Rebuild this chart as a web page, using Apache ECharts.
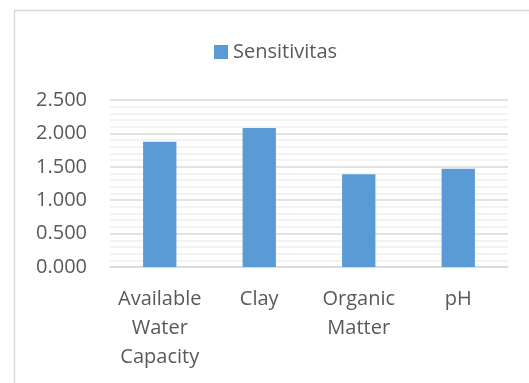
<!DOCTYPE html>
<html>
<head>
<meta charset="utf-8">
<script src="https://cdn.jsdelivr.net/npm/echarts@6/dist/echarts.min.js"></script>
<style>
  html, body { margin: 0; padding: 0; background: #ffffff; }
  #chart { width: 529px; height: 383px; }
</style>
</head>
<body>
<div id="chart"></div>
<script>
// Soil properties and their sensitivity values
const categories = ['Available Water Capacity', 'Clay', 'Organic Matter', 'pH'];
const sensitivitas = [1.875, 2.08, 1.388, 1.472];
const seriesName = 'Sensitivitas';

const textColor = '#595959';
const fontFamily = '"Open Sans", "Noto Sans", sans-serif';

const chart = echarts.init(document.getElementById('chart'), null, { renderer: 'canvas' });

chart.setOption({
  animation: false,
  backgroundColor: '#ffffff',
  graphic: [{
    type: 'rect',
    shape: { x: 14.5, y: 10.5, width: 700, height: 600 },
    style: { fill: 'none', stroke: '#d9d9d9', lineWidth: 1.5 },
    silent: true,
    z: -1
  }],
  legend: {
    data: [seriesName],
    top: 37,
    left: 209,
    icon: 'rect',
    itemWidth: 14,
    itemHeight: 14,
    itemGap: 10,
    textStyle: { color: textColor, fontSize: 20, fontFamily: fontFamily }
  },
  grid: {
    left: 110,
    right: 21,
    top: 100,
    bottom: 116,
    containLabel: false
  },
  xAxis: {
    type: 'category',
    data: categories,
    axisLine: { lineStyle: { color: '#d9d9d9', width: 1.5 } },
    axisTick: { show: false },
    axisLabel: {
      color: textColor,
      fontSize: 20,
      fontFamily: fontFamily,
      lineHeight: 29,
      margin: 18,
      interval: 0,
      formatter: (v) => v.split(' ').join('\n')
    }
  },
  yAxis: {
    type: 'value',
    min: 0,
    max: 2.5,
    interval: 0.5,
    axisLine: { show: false },
    axisTick: { show: false },
    axisLabel: {
      color: textColor,
      fontSize: 20,
      fontFamily: fontFamily,
      margin: 23,
      formatter: (v) => v.toFixed(3)
    },
    splitLine: { lineStyle: { color: '#d9d9d9', width: 1.5 } },
    minorTick: { show: false, splitNumber: 5 },
    minorSplitLine: { show: true, lineStyle: { color: '#f0f0f0', width: 1.5 } }
  },
  series: [{
    name: seriesName,
    type: 'bar',
    data: sensitivitas,
    barWidth: '33.5%',
    itemStyle: { color: '#5b9bd5' }
  }]
});
</script>
</body>
</html>
